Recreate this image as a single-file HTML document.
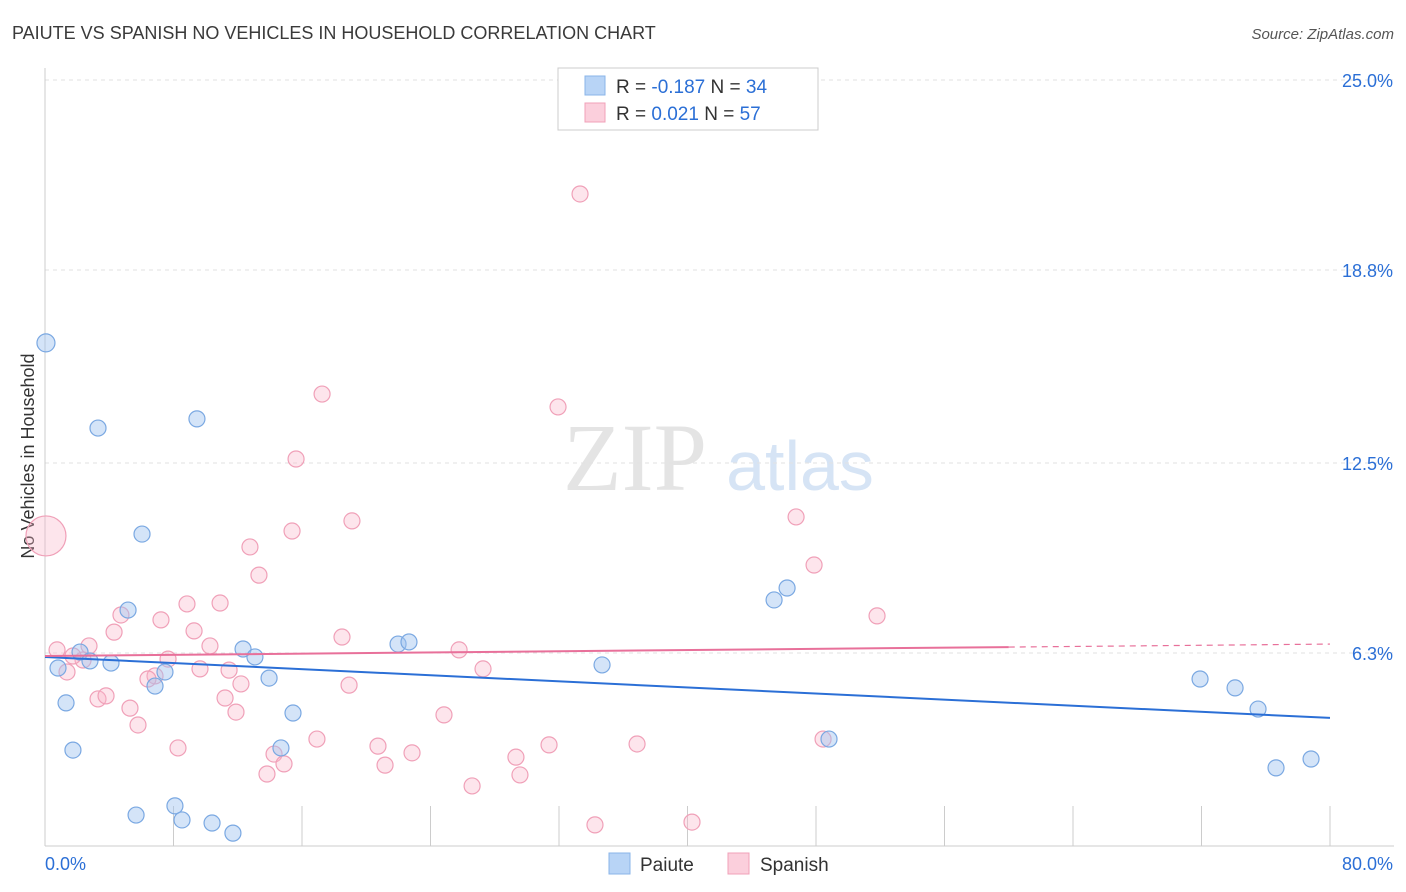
<!DOCTYPE html>
<html><head><meta charset="utf-8"><style>
body{margin:0;background:#fff;font-family:"Liberation Sans",sans-serif;}
svg{display:block}
</style></head><body>
<svg id="c" width="1406" height="892" xmlns="http://www.w3.org/2000/svg">
<text x="12" y="39" font-size="18" fill="#3a3a3a">PAIUTE VS SPANISH NO VEHICLES IN HOUSEHOLD CORRELATION CHART</text>
<text x="1394" y="39" font-size="15" fill="#555" text-anchor="end" font-style="italic">Source: ZipAtlas.com</text>
<text x="34" y="456" font-size="18" fill="#333" text-anchor="middle" transform="rotate(-90 34 456)">No Vehicles in Household</text>
<text x="635" y="490" font-size="96" fill="#e4e4e4" text-anchor="middle" font-family="Liberation Serif,serif">ZIP</text>
<text x="800" y="490" font-size="70" fill="#d6e4f5" text-anchor="middle">atlas</text>
<g id="grid"></g><g id="marks"></g>
<g>
<rect x="558" y="68" width="260" height="62" fill="#fff" stroke="#ccc"/>
<rect x="585" y="76" width="20" height="19" fill="#b8d4f6" stroke="#8ab4e8"/>
<rect x="585" y="103" width="20" height="19" fill="#fbcfdc" stroke="#f0a0b8"/>
<text x="616" y="93" font-size="19" fill="#333">R = <tspan fill="#2b6fd6">-0.187</tspan>   N = <tspan fill="#2b6fd6">34</tspan></text>
<text x="616" y="120" font-size="19" fill="#333">R =  <tspan fill="#2b6fd6">0.021</tspan>   N = <tspan fill="#2b6fd6">57</tspan></text>
</g>
<rect x="609" y="853" width="21" height="21" fill="#b8d4f6" stroke="#8ab4e8"/>
<text x="640" y="871" font-size="19" fill="#333">Paiute</text>
<rect x="728" y="853" width="21" height="21" fill="#fbcfdc" stroke="#f0a0b8"/>
<text x="760" y="871" font-size="19" fill="#333">Spanish</text>
</svg>
<script>
const yTicks=[25,18.8,12.5,6.3];
const yTickLabels=["25.0%","18.8%","12.5%","6.3%"];
const xTickLabels=["0.0%","80.0%"];
const paiuteX=[0.06,3.30,9.46,6.04,5.17,2.18,0.81,2.80,4.11,1.31,1.74,7.47,6.85,12.33,13.07,13.95,15.44,14.69,5.67,8.09,8.53,10.40,11.70,21.98,22.66,34.68,45.39,46.20,48.81,71.91,74.09,75.52,76.64,78.82];
const paiuteY=[16.42,13.64,13.94,10.18,7.70,6.33,5.81,6.04,5.97,4.67,3.13,5.68,5.22,6.43,6.17,5.48,4.34,3.20,1.01,1.31,0.85,0.75,0.42,6.59,6.66,5.91,8.03,8.42,3.49,5.45,5.16,4.47,2.55,2.84];
const spanishX=[0.06,33.31,17.25,31.94,15.63,19.11,15.38,12.76,13.32,46.76,47.88,51.80,8.84,10.90,7.22,4.73,4.30,9.28,10.27,18.49,25.78,2.74,0.75,2.37,1.37,7.66,9.65,6.85,6.41,11.46,12.20,18.93,27.27,11.21,3.30,3.80,5.29,11.89,5.79,24.84,8.28,14.26,14.88,16.93,20.73,22.85,21.17,13.82,26.59,29.32,29.57,31.38,36.86,48.44,34.24,40.28,1.74];
const spanishY=[10.12,21.28,14.75,14.33,12.63,10.61,10.28,9.76,8.84,10.74,9.17,7.51,7.90,7.93,7.38,7.54,6.98,7.02,6.53,6.82,6.40,6.53,6.40,6.07,5.68,6.10,5.78,5.55,5.45,5.74,5.29,5.25,5.78,4.83,4.80,4.90,4.50,4.37,3.95,4.28,3.20,3.00,2.68,3.49,3.26,3.04,2.64,2.35,1.96,2.90,2.32,3.30,3.33,3.49,0.69,0.78,6.20];
const paiuteTrend=[6.17,4.18];
const spanishTrend=[6.20,6.59];
const NS="http://www.w3.org/2000/svg";
const sx=v=>45+v/80*1285, sy=v=>846-v/25*766;
function mk(t,a,p){const e=document.createElementNS(NS,t);for(const k in a)e.setAttribute(k,a[k]);p.appendChild(e);return e;}
const grid=document.getElementById('grid'),marks=document.getElementById('marks');
yTicks.forEach((t,i)=>{
 const l=mk('line',{x1:45,x2:1394,y1:sy(t),y2:sy(t),stroke:'#e2e2e2','stroke-dasharray':'4,4'},grid);
 
 
 const tx=mk('text',{x:1393,y:sy(t)+7,'font-size':18,fill:'#2b6fd6','text-anchor':'end'},grid);tx.textContent=yTickLabels[i];
 
 
});
const ax=mk('line',{x1:45,x2:45,y1:68,y2:846,stroke:'#ccc'},grid);


const bx=mk('line',{x1:45,x2:1394,y1:846,y2:846,stroke:'#ccc'},grid);


for(let v=0;v<=80;v+=8){const t=mk('line',{x1:sx(v),x2:sx(v),y1:806,y2:846,stroke:'#ccc'},grid);
 
 }
[[0,'start',45],[80,'end',1393]].forEach((d,i)=>{const t=mk('text',{x:d[2],y:870,'font-size':18,fill:'#2b6fd6','text-anchor':d[1]},grid);t.textContent=xTickLabels[i];
 
 });
spanishX.forEach((x,i)=>{const c=mk('circle',{cx:sx(x),cy:sy(spanishY[i]),r:i==0?20:8,fill:'rgba(248,180,200,0.35)',stroke:'#f0a0b8','stroke-width':1.2},marks);
 
 });
paiuteX.forEach((x,i)=>{const c=mk('circle',{cx:sx(x),cy:sy(paiuteY[i]),r:i==0?9:8,fill:'rgba(160,196,240,0.45)',stroke:'#7aa8e2','stroke-width':1.2},marks);
 
 });
const pl=mk('line',{x1:sx(0),y1:sy(paiuteTrend[0]),x2:sx(80),y2:sy(paiuteTrend[1]),stroke:'#2b6fd6','stroke-width':2},marks);


const f=60/80, ym=spanishTrend[0]+(spanishTrend[1]-spanishTrend[0])*f;
const sl=mk('line',{x1:sx(0),y1:sy(spanishTrend[0]),x2:sx(60),y2:sy(ym),stroke:'#e8709a','stroke-width':2},marks);


const sd=mk('line',{x1:sx(60),y1:sy(ym),x2:sx(80),y2:sy(spanishTrend[1]),stroke:'#e8709a','stroke-width':1.2,'stroke-dasharray':'6,5'},marks);


</script>
</body></html>
